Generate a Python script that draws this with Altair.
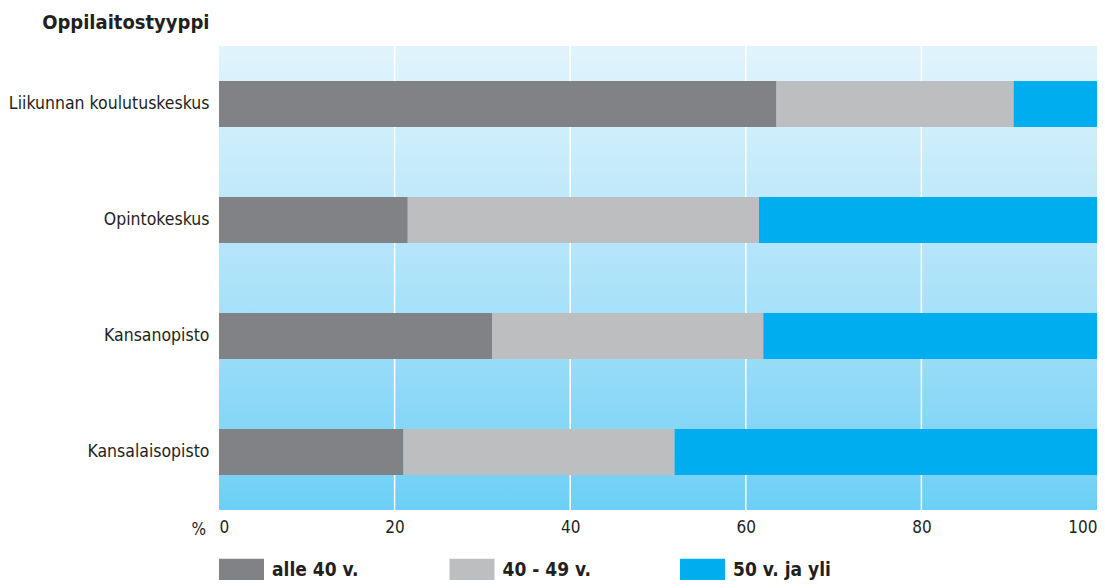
import altair as alt
import pandas as pd

categories = ["Liikunnan koulutuskeskus", "Opintokeskus", "Kansanopisto", "Kansalaisopisto"]
groups = ["alle 40 v.", "40 - 49 v.", "50 v. ja yli"]
alle40 = [63.5, 21.5, 31.1, 21.0]
v40_49 = [27.0, 40.0, 30.9, 30.9]
v50 = [9.5, 38.5, 38.0, 48.1]
colors = ["#808285", "#bcbec0", "#00aeef"]
grid_values = [20, 40, 60, 80]
tick_values = [0, 20, 40, 60, 80, 100]

rows = []
for i, c in enumerate(categories):
    for g, vals in zip(groups, [alle40, v40_49, v50]):
        rows.append({"cat": c, "group": g, "value": vals[i], "order": groups.index(g)})
df = pd.DataFrame(rows)

FONT = "DejaVu Sans Condensed, Liberation Sans Narrow, Roboto"
TXT = "#231f20"

xscale = alt.Scale(domain=[0, 100], nice=False, zero=True)

bg = alt.Chart(pd.DataFrame({"a": [0], "b": [100]})).mark_rect(
    color=alt.LinearGradient(
        gradient="linear",
        stops=[alt.GradientStop(color="#e1f4fc", offset=0),
               alt.GradientStop(color="#a9e1f9", offset=0.55),
               alt.GradientStop(color="#6dcff6", offset=1)],
        x1=0, x2=0, y1=0, y2=1)
).encode(
    x=alt.X("a:Q", scale=xscale),
    x2="b:Q",
    y=alt.value(0),
    y2=alt.value(464),
)

grid = alt.Chart(pd.DataFrame({"v": grid_values})).mark_rule(color="white", strokeWidth=1.5).encode(
    x=alt.X("v:Q", scale=xscale)
)

bars = alt.Chart(df).mark_bar(size=46).encode(
    y=alt.Y("cat:N", sort=categories,
            axis=alt.Axis(title="Oppilaitostyyppi", titleAngle=0, titleAlign="right",
                          titleBaseline="middle", titleX=-10, titleY=-24,
                          titleFont=FONT, titleFontSize=20, titleFontWeight="bold", titleColor=TXT,
                          labelFont=FONT, labelFontSize=17.5, labelColor=TXT, labelPadding=10,
                          ticks=False, domain=False, labelLimit=300)),
    x=alt.X("value:Q", stack="zero", scale=xscale,
            axis=alt.Axis(title="%", values=tick_values, grid=False, ticks=False, domain=False,
                          labelFont=FONT, labelFontSize=17, labelColor=TXT, labelPadding=9,
                          labelFlush=True,
                          titleFont=FONT, titleFontSize=17, titleFontWeight="normal", titleColor=TXT,
                          titleX=-28, titleY=24, titleAlign="left", titleBaseline="alphabetic")),
    color=alt.Color("group:N", sort=groups,
                    scale=alt.Scale(domain=groups, range=colors),
                    legend=alt.Legend(title=None, orient="none", legendX=0, legendY=501,
                                      direction="horizontal", padding=0,
                                      symbolType="M-1,-0.49H1V0.49H-1Z", symbolSize=2025,
                                      symbolStrokeWidth=0, symbolOpacity=1,
                                      labelFont=FONT, labelFontSize=19, labelFontWeight="bold",
                                      labelColor=TXT, labelOffset=8, gridAlign="all",
                                      columnPadding=79.5, labelLimit=300)),
    order=alt.Order("order:Q"),
)

chart = alt.layer(bg, grid, bars).properties(
    width=878, height=464,
    padding={"left": 211, "top": 38, "right": 0, "bottom": 70},
    autosize=alt.AutoSizeParams(type="none"),
).configure_view(stroke=None)

chart.save("out.html", embed_options={"renderer": "svg", "actions": False})
